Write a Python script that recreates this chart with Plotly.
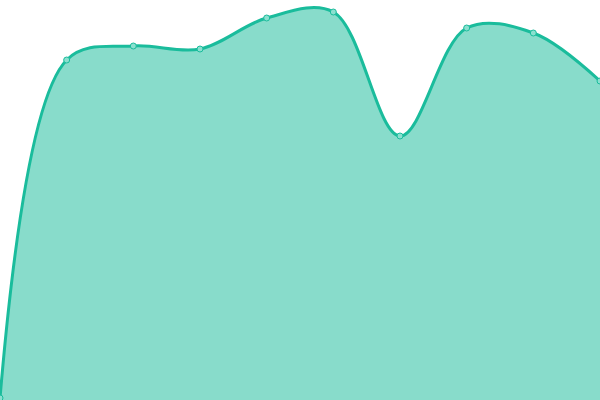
import plotly.graph_objects as go

x_vals = [0, 1, 2, 3, 4, 5, 6, 7, 8, 9]
y_vals = [2, 340, 354, 351, 382, 388, 264, 372, 367, 319]

fig = go.Figure(go.Scatter(
    x=x_vals, y=y_vals,
    mode='lines+markers',
    line=dict(color='#1abc9c', width=3, shape='spline', smoothing=1),
    marker=dict(size=6, color='#8ae0cf', line=dict(color='#1abc9c', width=1)),
    fill='tozeroy',
    fillcolor='rgba(26,188,156,0.52)',
    cliponaxis=False,
))

fig.update_layout(
    width=600, height=400,
    margin=dict(l=0, r=0, t=0, b=0),
    paper_bgcolor='white', plot_bgcolor='white',
    showlegend=False,
    xaxis=dict(visible=False, range=[0, 9]),
    yaxis=dict(visible=False, range=[0, 400]),
)

# page body has an 8px default margin, drop it so the figure sits at 0,0
fig.write_html("out.html", config={'displayModeBar': False},
               post_script="document.body.style.margin='0';")
